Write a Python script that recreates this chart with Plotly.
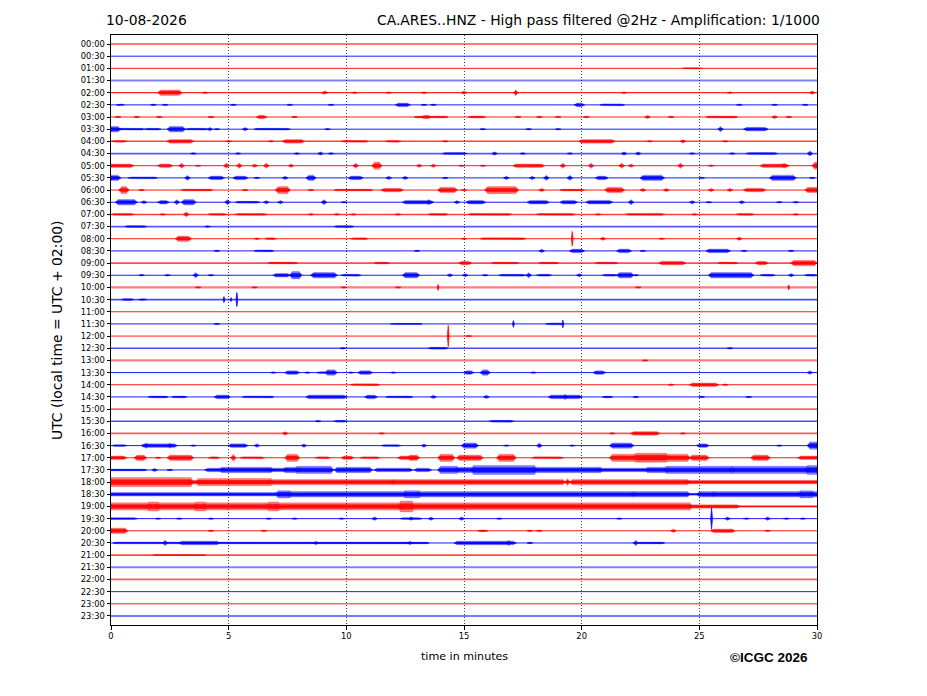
import plotly.graph_objects as go

# ---------------- data ----------------
date_label = "10-08-2026"
title_right = "CA.ARES..HNZ - High pass filtered @2Hz - Amplification: 1/1000"
y_title = "UTC (local time = UTC + 02:00)"
x_title = "time in minutes"
credit = "©ICGC 2026"

row_labels = [f"{h:02d}:{m:02d}" for h in range(24) for m in (0, 30)]
x_ticks = [0, 5, 10, 15, 20, 25, 30]

# background noise level of each trace (0 = clean line, 1 = pale, noisy line)
noise = [0.6, 0, 0, 1, 0.3, 0, 0, 0, 0.5, 0.7, 0, 0,
         0, 0, 0.5, 0.7, 0, 0, 0.6, 0, 1, 0.6, 0, 0,
         0, 0.6, 1, 0, 0, 0, 0.3, 0.6, 0.7, 0, 0, 0,
         0, 0, 0, 0, 0, 0, 0.6, 1, 0.7, 0, 0, 0.6]

# bursts per row: (start minute, end minute, amplitude level)
bursts = [
    [],  # 00:00
    [],  # 00:30
    [(24.4, 25.0, 0.6)],  # 01:00
    [],  # 01:30
    [(2.1, 2.9, 3), (4.0, 4.0, 1), (9.05, 9.1, 2), (10.35, 10.35, 1), (11.8, 11.8, 1),
     (13.3, 13.3, 1), (15.0, 15.0, 2), (17.2, 17.2, 2), (21.8, 21.8, 1), (26.3, 26.3, 1),
     (29.8, 29.8, 2)],  # 02:00
    [(0.35, 0.45, 1), (1.8, 1.8, 1), (2.3, 2.3, 1), (5.2, 5.2, 1), (7.6, 7.6, 1),
     (9.35, 9.35, 1), (12.2, 12.6, 2), (13.3, 13.3, 1), (13.7, 13.7, 1), (19.8, 20.0, 2),
     (20.9, 21.7, 1), (26.7, 26.7, 1), (28.2, 28.2, 1), (29.5, 29.5, 1)],  # 02:30
    [(0.3, 0.3, 1), (1.1, 1.1, 1), (2.05, 2.05, 1), (4.25, 4.25, 1), (6.3, 6.5, 2),
     (7.8, 7.8, 1), (13.0, 13.2, 1), (13.3, 13.5, 2), (13.7, 14.2, 1), (15.3, 15.8, 1),
     (17.3, 17.3, 1), (18.2, 18.2, 1), (19.0, 19.0, 1), (20.2, 20.2, 1), (22.8, 22.8, 2),
     (23.8, 23.8, 1), (25.4, 26.5, 1), (28.2, 28.2, 2), (28.8, 28.8, 1)],  # 03:00
    [(0.0, 0.3, 3), (0.4, 1.3, 1), (1.55, 2.0, 1), (2.5, 3.05, 3), (3.3, 4.0, 1),
     (4.2, 4.2, 2), (4.5, 4.5, 1), (5.7, 5.7, 2), (6.2, 7.5, 1), (9.2, 9.2, 1),
     (15.8, 15.8, 1), (17.75, 17.75, 1), (19.0, 19.0, 1), (25.9, 25.9, 3), (27.0, 27.8, 2)],  # 03:30
    [(0.15, 0.55, 1), (2.5, 3.4, 2), (5.0, 5.0, 1), (6.8, 6.8, 1), (7.4, 8.1, 2),
     (9.9, 10.8, 1), (11.8, 12.2, 1), (14.2, 14.2, 1), (20.0, 21.3, 2), (22.9, 22.9, 1),
     (24.3, 24.3, 2), (26.1, 26.1, 1)],  # 04:00
    [(3.5, 3.5, 1), (5.4, 5.4, 1), (7.9, 7.9, 1), (8.9, 8.9, 2), (9.35, 9.35, 1),
     (14.2, 15.0, 1), (16.3, 16.3, 2), (17.5, 17.5, 1), (19.5, 19.5, 1), (21.8, 21.8, 2),
     (22.4, 22.4, 2), (24.7, 24.7, 1), (26.4, 26.4, 1), (27.1, 28.2, 1), (29.7, 29.7, 3)],  # 04:30
    [(0.0, 0.85, 2), (2.1, 2.5, 2), (3.0, 3.0, 3), (3.7, 3.7, 1), (4.9, 4.9, 3),
     (5.45, 5.45, 3), (6.1, 6.1, 2), (6.6, 6.6, 3), (7.65, 7.65, 2), (10.4, 10.4, 3),
     (11.2, 11.4, 4), (13.1, 13.1, 2), (13.7, 13.7, 2), (14.9, 14.9, 1), (15.8, 15.8, 1),
     (17.2, 18.3, 2), (19.2, 19.2, 3), (20.4, 20.4, 3), (21.7, 21.7, 3), (22.1, 22.1, 2),
     (24.2, 24.2, 3), (25.5, 25.5, 1), (27.7, 28.7, 2), (28.6, 28.6, 3), (29.9, 30.0, 4)],  # 05:00
    [(0.0, 0.3, 3), (0.85, 1.85, 1), (3.25, 3.25, 3), (4.25, 4.7, 2), (5.3, 5.7, 2),
     (6.2, 6.2, 1), (7.4, 7.4, 2), (8.4, 8.6, 3), (10.2, 10.6, 2), (11.8, 11.8, 2),
     (12.5, 12.5, 2), (14.2, 14.2, 1), (16.8, 16.8, 2), (17.9, 17.9, 2), (18.5, 18.5, 3),
     (19.5, 19.5, 3), (20.7, 21.0, 2), (22.6, 23.4, 3), (25.1, 25.1, 1), (28.1, 29.0, 3),
     (29.8, 29.8, 1)],  # 05:30
    [(0.45, 0.65, 4), (1.3, 1.3, 1), (3.1, 4.2, 1), (5.7, 5.7, 1), (7.1, 7.5, 4),
     (8.5, 8.5, 1), (9.6, 11.0, 1), (11.6, 12.3, 2), (14.0, 14.6, 3), (15.0, 15.0, 1),
     (16.0, 17.2, 4), (18.3, 18.3, 2), (19.2, 20.0, 1), (21.1, 21.7, 3), (22.6, 22.6, 2),
     (23.6, 23.6, 2), (25.5, 25.5, 2), (26.3, 26.3, 2), (27.0, 27.7, 2), (29.6, 30.0, 3)],  # 06:00
    [(0.3, 1.0, 3), (1.4, 1.4, 2), (2.1, 2.35, 2), (2.8, 2.8, 3), (3.1, 3.5, 3),
     (4.95, 4.95, 3), (5.4, 6.2, 1), (6.6, 6.6, 2), (7.2, 7.2, 2), (9.05, 9.05, 3),
     (9.9, 9.9, 1), (12.5, 13.6, 2), (13.5, 13.5, 3), (14.7, 14.7, 2), (15.2, 15.8, 2),
     (17.8, 18.5, 2), (19.2, 19.7, 2), (20.3, 21.2, 2), (22.1, 22.1, 3), (24.7, 24.7, 2),
     (25.4, 25.4, 1), (26.8, 26.8, 2), (28.4, 28.4, 1), (29.1, 29.1, 1)],  # 06:30
    [(0.15, 0.85, 1), (2.2, 2.2, 1), (3.2, 3.2, 3), (4.25, 4.8, 1), (5.4, 6.5, 1),
     (8.5, 8.5, 1), (9.6, 9.6, 1), (10.3, 10.3, 1), (12.2, 12.2, 1), (13.6, 14.2, 1),
     (15.3, 16.9, 1), (18.2, 19.6, 1), (20.7, 20.7, 1), (22.0, 23.4, 1), (24.8, 24.8, 1),
     (26.7, 27.2, 1), (29.1, 29.1, 1)],  # 07:00
    [(0.7, 1.4, 1), (4.1, 4.1, 1), (9.6, 10.2, 1)],  # 07:30
    [(2.85, 3.3, 3), (6.2, 6.2, 1), (6.65, 6.9, 1), (10.3, 10.8, 1), (15.0, 15.0, 1),
     (15.8, 17.5, 1), (20.9, 20.9, 2), (23.4, 23.4, 1), (26.7, 26.7, 2)],  # 08:00
    [(4.5, 4.5, 1), (6.2, 6.8, 1), (13.0, 13.0, 1), (18.3, 18.3, 2), (19.6, 20.0, 2),
     (21.6, 22.0, 2), (22.6, 22.6, 1), (25.4, 26.2, 2), (26.9, 26.9, 1), (28.9, 28.9, 1)],  # 08:30
    [(6.8, 7.8, 1), (11.3, 11.7, 1), (14.9, 15.2, 2), (16.3, 17.2, 1), (18.3, 18.9, 1),
     (20.7, 21.4, 1), (23.4, 24.3, 2), (25.9, 26.5, 1), (27.5, 27.8, 2), (29.0, 29.9, 3)],  # 09:00
    [(1.3, 1.3, 1), (2.4, 2.4, 1), (3.6, 3.6, 3), (4.25, 4.25, 1), (7.0, 7.5, 2),
     (7.7, 8.0, 4), (8.6, 9.5, 3), (9.9, 10.5, 1), (12.5, 13.0, 3), (14.4, 14.4, 2),
     (15.05, 15.05, 2), (15.9, 15.9, 1), (16.6, 17.5, 1), (17.75, 17.75, 3), (18.2, 18.6, 1),
     (19.9, 19.9, 2), (21.0, 21.4, 1), (21.6, 22.1, 3), (22.3, 22.3, 1), (25.5, 27.2, 3),
     (27.7, 28.1, 1), (28.9, 28.9, 2), (29.6, 29.9, 1)],  # 09:30
    [(3.7, 3.7, 1), (6.1, 6.1, 1), (9.9, 9.9, 1), (12.2, 12.2, 1), (22.4, 22.4, 1)],  # 10:00
    [(0.55, 0.85, 1), (1.3, 1.4, 1)],  # 10:30
    [],  # 11:00
    [(4.5, 4.5, 1), (12.0, 13.1, 0.5), (18.6, 19.1, 1)],  # 11:30
    [(15.2, 15.2, 1)],  # 12:00
    [(9.85, 9.85, 1), (13.6, 14.2, 1), (26.3, 26.3, 1)],  # 12:30
    [(22.7, 22.7, 1)],  # 13:00
    [(6.9, 6.9, 1), (7.5, 7.9, 2), (8.35, 8.35, 1), (8.85, 9.05, 1), (9.2, 9.5, 3),
     (10.2, 10.2, 1), (10.6, 11.0, 2), (12.0, 12.0, 1), (15.1, 15.3, 2), (15.8, 16.0, 3),
     (17.95, 17.95, 1), (20.6, 20.9, 2), (29.7, 29.7, 2)],  # 13:30
    [(10.3, 11.3, 1), (23.8, 23.8, 1), (24.7, 25.7, 2), (26.1, 26.1, 1)],  # 14:00
    [(1.7, 2.3, 1), (2.7, 3.1, 1), (4.5, 4.95, 2), (5.7, 6.8, 1), (8.4, 9.9, 2),
     (10.9, 11.2, 2), (11.8, 12.7, 1), (13.7, 13.7, 2), (15.95, 15.95, 2), (18.7, 19.9, 2),
     (19.3, 19.3, 3), (21.0, 21.2, 1), (22.3, 22.3, 1), (25.1, 25.1, 1), (27.1, 27.1, 1)],  # 14:30
    [],  # 15:00
    [(8.8, 8.8, 1), (9.6, 9.9, 1), (16.2, 17.0, 1)],  # 15:30
    [(7.4, 7.4, 2), (11.5, 11.5, 1), (21.3, 21.3, 1), (22.2, 23.2, 2), (24.3, 24.3, 1)],  # 16:00
    [(0.15, 0.55, 1), (1.4, 2.7, 2), (1.5, 1.5, 3), (2.5, 2.5, 3), (3.5, 3.5, 1),
     (5.1, 5.7, 2), (6.2, 6.2, 2), (8.2, 8.2, 2), (11.6, 12.2, 1), (13.3, 13.3, 2),
     (15.0, 15.5, 3), (16.8, 16.8, 1), (18.2, 18.2, 3), (19.6, 19.6, 1), (21.3, 22.1, 3),
     (25.0, 25.3, 2), (28.4, 28.4, 1), (29.7, 30.0, 4)],  # 16:30
    [(0.0, 0.55, 2), (1.1, 1.4, 3), (2.0, 2.0, 1), (2.5, 3.4, 3), (4.25, 4.5, 1),
     (5.2, 5.2, 4), (5.6, 6.4, 1), (7.5, 7.9, 4), (8.8, 9.2, 1), (9.9, 10.2, 2),
     (10.7, 11.3, 1), (12.3, 12.9, 2), (12.7, 13.0, 3), (14.0, 14.5, 4), (14.8, 15.7, 3),
     (16.5, 17.1, 4), (18.0, 19.1, 1), (21.3, 24.5, 4), (22.3, 23.6, 5), (24.7, 25.3, 3),
     (27.3, 27.9, 3), (29.3, 30.0, 2)],  # 17:00
    [(0.0, 1.4, 1), (1.85, 1.85, 2), (2.5, 2.5, 1), (4.1, 4.7, 2), (4.7, 6.8, 3),
     (6.8, 7.4, 2), (7.4, 7.9, 3), (7.9, 9.35, 4), (9.6, 11.0, 3), (11.3, 12.7, 2),
     (13.0, 13.5, 2), (14.0, 14.7, 4), (14.7, 15.4, 3), (15.4, 18.0, 5), (18.0, 20.8, 3),
     (20.8, 22.8, 2), (22.8, 23.6, 3), (23.6, 26.4, 4), (26.4, 29.6, 4), (29.6, 30.0, 5)],  # 17:30
    [(0.0, 3.4, 5), (3.4, 3.7, 2), (3.7, 6.8, 4), (6.8, 12.0, 3), (12.0, 19.2, 3),
     (19.4, 19.4, 4), (19.6, 24.5, 3), (24.5, 30.0, 2)],  # 18:00
    [(0.0, 7.1, 2), (7.1, 7.6, 4), (7.6, 12.5, 3), (12.5, 13.1, 4), (13.1, 22.2, 3),
     (22.2, 24.5, 3), (24.5, 25.0, 1), (25.0, 25.6, 3), (25.6, 29.3, 3), (29.3, 29.8, 4),
     (29.8, 30.0, 3)],  # 18:30
    [(0.0, 1.6, 4), (1.6, 2.0, 5), (2.0, 3.6, 4), (3.6, 4.0, 5), (4.0, 6.7, 4),
     (6.7, 7.1, 5), (7.1, 12.3, 4), (12.3, 12.8, 6), (12.8, 24.6, 4), (24.6, 26.6, 2),
     (26.6, 30.0, 0.7)],  # 19:00
    [(0.0, 1.0, 1), (2.0, 2.0, 1), (2.9, 2.9, 1), (4.25, 4.25, 1), (6.7, 6.7, 1),
     (7.8, 7.8, 1), (9.8, 9.8, 1), (11.2, 11.2, 2), (12.4, 13.1, 1), (12.75, 12.75, 2),
     (13.6, 13.6, 2), (14.9, 14.9, 2), (16.5, 16.5, 1), (21.6, 21.6, 1), (26.2, 26.2, 2),
     (27.0, 27.0, 1), (27.9, 27.9, 2), (28.7, 28.7, 1), (29.4, 29.4, 1)],  # 19:30
    [(0.0, 0.6, 3), (4.25, 4.25, 1), (6.5, 6.5, 1), (15.7, 15.9, 1), (17.8, 17.8, 1),
     (18.2, 18.2, 1), (23.9, 23.9, 2), (25.6, 26.4, 2), (27.9, 27.9, 1)],  # 20:00
    [(0.2, 13.4, 1), (2.3, 2.3, 3), (3.0, 4.5, 2), (8.7, 8.7, 2), (12.7, 12.7, 2),
     (14.7, 17.1, 2), (16.9, 16.9, 3), (17.8, 17.8, 1), (22.3, 22.3, 3), (22.5, 23.4, 1)],  # 20:30
    [(1.9, 3.9, 0.5)],  # 21:00
    [],  # 21:30
    [],  # 22:00
    [],  # 22:30
    [],  # 23:00
    [],  # 23:30
]

# isolated sharp events: (row label, minute, amplitude level)
spikes = [
    ("02:00", 17.2, 3.0),
    ("08:00", 19.6, 8.0),
    ("10:00", 13.9, 3.3),
    ("10:00", 28.8, 2.7),
    ("10:30", 4.8, 3.3),
    ("10:30", 5.1, 2.0),
    ("10:30", 5.35, 7.7),
    ("11:30", 17.1, 3.7),
    ("11:30", 19.2, 4.2),
    ("12:00", 14.33, 11.7),
    ("19:30", 25.52, 11.7),
]

# ---------------- drawing ----------------
AMP = 0.075     # rows per amplitude level (outer, light envelope)
CORE = 0.5      # fraction of envelope drawn as solid core
TAPER = 0.12    # minutes
SPIKE_W = 0.04
RGB = {"red": (255, 0, 0), "blue": (0, 0, 255)}


def row_color(i):
    return "red" if i % 2 == 0 else "blue"


def rgba(name, a):
    r, g, b = RGB[name]
    return f"rgba({r},{g},{b},{a})"


fig = go.Figure()

# baselines
for i, lab in enumerate(row_labels):
    n = noise[i]
    c = row_color(i)
    fig.add_trace(go.Scatter(
        x=[0, 30], y=[i, i], mode="lines",
        line=dict(color=rgba(c, round(1 - 0.5 * n, 2)), width=0.9 + 1.2 * n),
        hoverinfo="skip"))


def burst_paths(cname, scale):
    xs, ys = [], []
    for i, evs in enumerate(bursts):
        if row_color(i) != cname:
            continue
        for t0, t1, lev in evs:
            a = lev * AMP * scale
            xa = max(0.0, t0 - TAPER)
            xb = min(30.0, t1 + TAPER)
            xs += [xa, t0, t1, xb, t1, t0, xa, None]
            ys += [i, i - a, i - a, i, i + a, i + a, i, None]
    return xs, ys


# bursts: light outer envelope, then solid core
for cname in ("red", "blue"):
    xs, ys = burst_paths(cname, 1.0)
    fig.add_trace(go.Scatter(
        x=xs, y=ys, mode="lines", fill="toself",
        fillcolor=rgba(cname, 0.5), line=dict(color=rgba(cname, 0.45), width=0.5),
        hoverinfo="skip"))
    xs, ys = burst_paths(cname, CORE)
    fig.add_trace(go.Scatter(
        x=xs, y=ys, mode="lines", fill="toself",
        fillcolor=rgba(cname, 0.85), line=dict(color=rgba(cname, 0.85), width=0.6),
        hoverinfo="skip"))

# spikes
for cname in ("red", "blue"):
    xs, ys = [], []
    for lab, t, lev in spikes:
        i = row_labels.index(lab)
        if row_color(i) != cname:
            continue
        a = lev * AMP
        xs += [t - SPIKE_W, t, t + SPIKE_W, t, t - SPIKE_W, None]
        ys += [i, i - a, i, i + a, i, None]
    fig.add_trace(go.Scatter(
        x=xs, y=ys, mode="lines", fill="toself",
        fillcolor=rgba(cname, 0.9), line=dict(color=cname, width=0.7),
        hoverinfo="skip"))

FONT = "DejaVu Sans"

# page body adds an 8px offset, so the figure is sized 8px smaller
fig.update_layout(
    width=919, height=688,
    margin=dict(l=103, r=110, t=27, b=71),
    paper_bgcolor="white", plot_bgcolor="white",
    showlegend=False,
    font=dict(family=FONT, color="black"),
    xaxis=dict(
        range=[0, 30], tickvals=x_ticks, ticktext=[str(v) for v in x_ticks],
        ticks="outside", ticklen=3.5, tickwidth=0.8, tickcolor="black",
        tickfont=dict(size=8.33, family=FONT),
        showgrid=True, gridcolor="rgba(0,0,0,0.75)", gridwidth=0.6, griddash="1px,2px",
        showline=True, mirror=True, linecolor="black", linewidth=1,
        zeroline=False,
    ),
    yaxis=dict(
        range=[47.74, -0.74], tickvals=list(range(len(row_labels))), ticktext=row_labels,
        ticks="outside", ticklen=3.5, tickwidth=0.8, tickcolor="black",
        tickfont=dict(size=8.33, family=FONT),
        showgrid=False, showline=True, mirror=True, linecolor="black", linewidth=1,
        zeroline=False,
    ),
    annotations=[
        dict(text=date_label, xref="paper", yref="paper", x=-0.0105, y=1.0254,
             xanchor="left", yanchor="middle", showarrow=False,
             font=dict(size=13.9, family=FONT)),
        dict(text=title_right, xref="paper", yref="paper", x=1.0071, y=1.0254,
             xanchor="right", yanchor="middle", showarrow=False,
             font=dict(size=13.9, family=FONT)),
        dict(text=y_title, xref="paper", yref="paper", x=-0.0765, y=0.5,
             xanchor="center", yanchor="middle", textangle=-90, showarrow=False,
             font=dict(size=13.9, family=FONT)),
        dict(text=x_title, xref="paper", yref="paper", x=0.5, y=-0.0542,
             xanchor="center", yanchor="middle", showarrow=False,
             font=dict(size=11.1, family=FONT)),
        dict(text="<b>" + credit + "</b>", xref="paper", yref="paper", x=0.9901, y=-0.0559,
             xanchor="right", yanchor="middle", showarrow=False,
             font=dict(size=13.5, family="Liberation Sans")),
    ],
)

fig.write_html("out.html")
